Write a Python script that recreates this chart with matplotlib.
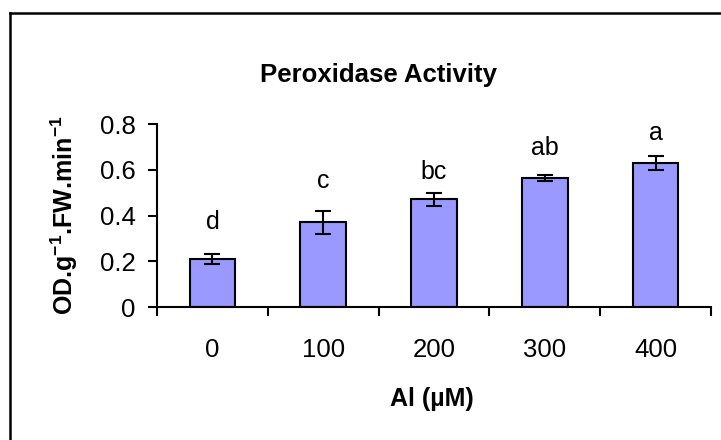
import matplotlib.pyplot as plt
from matplotlib.lines import Line2D

plt.rcParams["font.family"] = ["Liberation Sans", "DejaVu Sans"]
plt.rcParams["mathtext.fontset"] = "custom"
plt.rcParams["mathtext.rm"] = "Liberation Sans"
plt.rcParams["mathtext.bf"] = "Liberation Sans:bold"

doses = ["0", "100", "200", "300", "400"]
activity = [0.21, 0.37, 0.47, 0.565, 0.63]
errors = [0.02, 0.05, 0.03, 0.012, 0.03]
letters = ["d", "c", "bc", "ab", "a"]
letter_y = [0.34, 0.52, 0.56, 0.665, 0.73]

W, H = 721, 440


def main():
    fig = plt.figure(figsize=(W / 100, H / 100), dpi=100)
    # plot area measured in pixels off the reference
    ax = fig.add_axes([157 / W, 1 - 307 / H, (711 - 157) / W, (307 - 124) / H])

    x = range(len(doses))
    ax.bar(x, activity, width=0.41, color="#9999ff", edgecolor="black", linewidth=1.5,
           yerr=errors, error_kw=dict(ecolor="black", elinewidth=1.5, capsize=6, capthick=1.5))

    for xi, lab, ly in zip(x, letters, letter_y):
        ax.text(xi, ly, lab, ha="center", va="baseline", fontsize=18)

    ax.set_xlim(-0.5, len(doses) - 0.5)
    ax.set_ylim(0, 0.8)
    ax.set_yticks([0, 0.2, 0.4, 0.6, 0.8])
    ax.set_yticklabels(["0", "0.2", "0.4", "0.6", "0.8"])
    # excel style: ticks between categories, labels centred below bars
    ax.set_xticks([i - 0.5 for i in range(len(doses) + 1)])
    ax.set_xticklabels([])
    ax.set_xticks(list(x), minor=True)
    ax.set_xticklabels(doses, minor=True)
    ax.tick_params(axis="x", which="major", direction="out", length=6.5, width=1.5)
    ax.tick_params(axis="x", which="minor", length=0, pad=22.5, labelsize=18.5)
    ax.tick_params(axis="y", direction="out", length=6.5, width=1.5, labelsize=18.5, pad=9)

    for side in ("top", "right"):
        ax.spines[side].set_visible(False)
    for side in ("left", "bottom"):
        ax.spines[side].set_linewidth(1.5)

    ax.set_xlabel("Al (µM)", fontsize=18, fontweight="bold", va="baseline")
    ax.xaxis.set_label_coords((432 - 157) / 554, (307 - 406) / 183)
    ax.set_ylabel("OD.g$^{\\mathbf{-1}}$.FW.min$^{\\mathbf{-1}}$", fontsize=18,
                  fontweight="bold", va="center")
    ax.yaxis.set_label_coords((64 - 157) / 554, 0.5)

    fig.text(260 / W, 1 - 82 / H, "Peroxidase Activity", ha="left", va="baseline",
             fontsize=18.5, fontweight="bold")

    # outer frame (only left and top edges visible in the cropped original)
    bx, by = 9.5 / W, 1 - 13 / H
    fig.add_artist(Line2D([bx, bx], [0, by], transform=fig.transFigure, color="black", lw=1.8))
    fig.add_artist(Line2D([bx, 1], [by, by], transform=fig.transFigure, color="black", lw=1.8))

    fig.savefig("out.png", dpi=100)
    plt.close(fig)


if __name__ == "__main__":
    main()
